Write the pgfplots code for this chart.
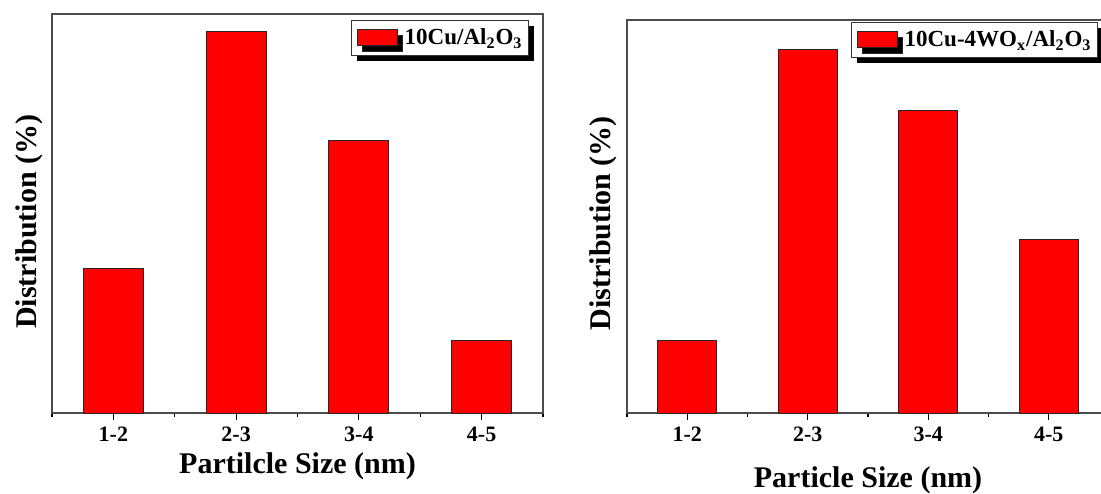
\documentclass[border=0pt]{standalone}
\usepackage{fontspec}
\setmainfont{Liberation Serif}
\usepackage{pgfplots}
\pgfplotsset{compat=1.18}
\usetikzlibrary{shadows}

\pgfplotsset{
  distax/.style={
    scale only axis, anchor=south west,
    ybar, bar width=0.49,
    xmin=0.5, xmax=4.5, ymin=0,
    xtick={1,2,3,4}, xticklabels={1-2,2-3,3-4,4-5},
    minor xtick={0.5,1.5,2.5,3.5,4.5},
    ytick=\empty,
    xtick pos=left,
    tick align=outside,
    major tick length=3.5pt, minor tick length=2pt,
    axis line style={black!70, line width=0.6pt},
    every tick/.style={black, line width=0.6pt},
    xticklabel style={font=\fontsize{11}{12}\selectfont\bfseries, anchor=center, yshift=-7pt},
    label style={font=\fontsize{15}{18}\selectfont\bfseries},
    legend image code/.code={\draw[#1] (0pt,-4pt) rectangle (20pt,4pt);},
    legend style={at={(1,1)}, anchor=north east, draw=black!80, fill=white,
      general shadow={fill=black, shadow xshift=2.5pt, shadow yshift=-3pt},
      font=\fontsize{11.5}{13}\selectfont\bfseries, inner xsep=2.5pt, inner ysep=2.5pt,
      column sep=3pt,
      nodes={inner xsep=0.5pt, inner ysep=1.5pt},
      line width=0.5pt},
  }
}

\begin{document}
\begin{tikzpicture}
\begin{axis}[distax, at={(26pt,40pt)}, width=245.5pt, height=199.5pt,
  ymax=45.9,
  ylabel={Distribution (\%)}, xlabel={Partilcle Size (nm)},
  ylabel style={at={(axis description cs:-0.047,0.479)}, anchor=center},
  xlabel style={at={(axis description cs:0.5,-0.133)}, anchor=center},
  legend style={xshift=-7pt, yshift=-3pt}]
\addplot[fill=red, draw=black!85, line width=0.5pt] coordinates {(1,16.6) (2,43.9) (3,31.3) (4,8.3)};
\addlegendentry{10Cu/Al\textsubscript{2}O\textsubscript{3}}
\end{axis}
\begin{axis}[distax, at={(313.5pt,40pt)}, width=241pt, height=196.5pt,
  ymax=43.1,
  ylabel={Distribution (\%)}, xlabel={Particle Size (nm)},
  ylabel style={at={(axis description cs:-0.050,0.483)}, anchor=center},
  xlabel style={at={(axis description cs:0.5,-0.170)}, anchor=center},
  legend style={xshift=-5.5pt, yshift=-1pt}]
\addplot[fill=red, draw=black!85, line width=0.5pt] coordinates {(1,7.9) (2,39.9) (3,33.2) (4,19.0)};
\addlegendentry{10Cu-4WO\textsubscript{x}/Al\textsubscript{2}O\textsubscript{3}}
\end{axis}
\pgfresetboundingbox
\useasboundingbox (0,0) rectangle (550.5pt,246.5pt);
\end{tikzpicture}
\end{document}
